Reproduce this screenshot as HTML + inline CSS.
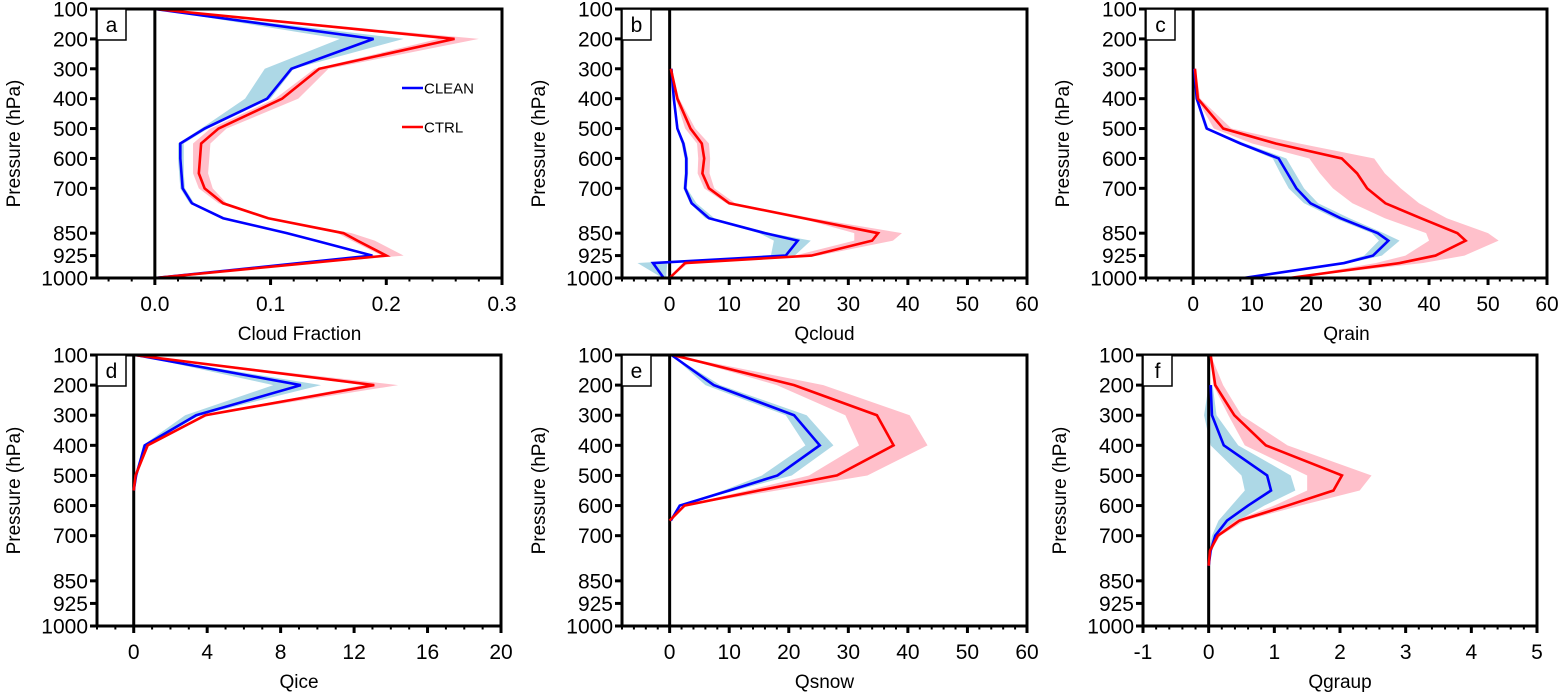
<!DOCTYPE html>
<html><head><meta charset="utf-8">
<style>
html,body{margin:0;padding:0;background:#fff;}
svg{display:block;font-family:"Liberation Sans",Arial,sans-serif;}
</style></head>
<body>
<svg id="chart" width="1568" height="696" viewBox="0 0 1568 696" xmlns="http://www.w3.org/2000/svg"></svg>
<script>
const levels = [100,200,300,400,500,550,600,650,700,750,800,850,875,925,950,1000];
const yTicks = [100,200,300,400,500,600,700,850,925,1000];
const N = null;

// panel a: cloud fraction
const aClean   = [0,0.189,0.118,0.097,0.043,0.022,0.022,0.023,0.024,0.032,0.059,0.114,0.139,0.188,0.125,0];
const aCleanLo = [0,0.160,0.095,0.078,0.040,0.020,0.020,0.021,0.022,0.030,0.057,0.112,0.137,0.184,0.120,0];
const aCleanHi = [0,0.215,0.120,0.100,0.046,0.025,0.025,0.025,0.026,0.034,0.060,0.116,0.142,0.190,0.126,0];
const aCtrl    = [0,0.259,0.142,0.110,0.055,0.040,0.039,0.038,0.043,0.059,0.098,0.163,0.175,0.200,0.133,0];
const aCtrlLo  = [0,0.245,0.138,0.104,0.048,0.033,0.033,0.033,0.038,0.055,0.094,0.158,0.170,0.196,0.130,0];
const aCtrlHi  = [0,0.280,0.150,0.124,0.062,0.048,0.047,0.046,0.050,0.062,0.100,0.170,0.190,0.215,0.140,0];
// panel b: Qcloud
const bClean   = [N,N,0.3,0.7,1.3,2.3,2.8,2.8,2.6,3.7,6.6,16,21.5,19.5,-2.8,-1];
const bCleanLo = [N,N,0.2,0.5,1.1,2.0,2.5,2.5,2.3,3.4,6.0,15,17.5,17.0,-5.4,-1.2];
const bCleanHi = [N,N,0.4,0.9,1.5,2.6,3.1,3.1,2.9,4.5,7.5,17,23.7,21.0,-0.4,-0.6];
const bCtrl    = [N,N,0.2,1.3,3.5,5.4,5.8,5.5,6.6,10,22.5,35,34,23.8,2.6,0];
const bCtrlLo  = [N,N,0.1,1.0,2.6,4.6,4.8,4.7,5.8,9.5,22,31,31,21,2.2,0];
const bCtrlHi  = [N,N,0.3,1.6,4.3,6.6,6.8,6.7,7.5,11,24,39,37.5,25,3.2,0];
// panel c: Qrain
const cClean   = [N,N,0.2,0.6,2.3,8.0,14.5,16,17.5,19.9,25,31.3,33.1,30.5,25.6,8.5];
const cCleanLo = [N,N,0.1,0.4,2.0,7.5,13.5,14.8,16.2,18.8,24,30.3,31.5,29.0,24.8,8.5];
const cCleanHi = [N,N,0.3,0.8,2.6,8.8,15.8,17.3,18.8,21.2,26.5,32.3,35.0,32.0,26.5,8.5];
const cCtrl    = [N,N,0.3,0.8,5.1,14,25.2,27.8,29.5,32.6,38.6,44.8,46.2,41.1,35,16.3];
const cCtrlLo  = [N,N,0.2,0.6,3.5,10,19.7,21.5,23.7,27,32.5,39.5,40,36,31,16.3];
const cCtrlHi  = [N,N,0.4,1.2,6.5,18,30.7,32.5,35.2,38.3,43,50,51.8,46,39,16.3];
// panel d: Qice
const dClean   = [0.1,9.1,3.4,0.6,0.13,0,N,N,N,N,N,N,N,N,N,N];
const dCleanLo = [0.1,7.6,2.8,0.5,0.1,0,N,N,N,N,N,N,N,N,N,N];
const dCleanHi = [0.1,10.2,3.6,0.7,0.2,0,N,N,N,N,N,N,N,N,N,N];
const dCtrl    = [0,13.1,3.9,0.76,0.1,0,N,N,N,N,N,N,N,N,N,N];
const dCtrlLo  = [0,12.5,3.7,0.7,0.1,0,N,N,N,N,N,N,N,N,N,N];
const dCtrlHi  = [0,14.4,4.1,0.8,0.1,0,N,N,N,N,N,N,N,N,N,N];
// panel e: Qsnow
const eClean   = [0.3,7.4,20.9,25.2,18.1,10,1.7,0.2,N,N,N,N,N,N,N,N];
const eCleanLo = [0.3,6.0,19.5,22.8,15.5,9,1.5,0.2,N,N,N,N,N,N,N,N];
const eCleanHi = [0.3,8.5,23.0,27.5,20.5,11,1.9,0.2,N,N,N,N,N,N,N,N];
const eCtrl    = [0.5,20.9,34.8,37.6,28.1,15,2.5,0,N,N,N,N,N,N,N,N];
const eCtrlLo  = [0.5,18.0,29.5,31.8,23.4,13,2.2,0,N,N,N,N,N,N,N,N];
const eCtrlHi  = [0.5,25.8,40.3,43.3,33.2,18,2.8,0,N,N,N,N,N,N,N,N];
// panel f: Qgraup
const fClean   = [N,0.03,0.05,0.23,0.89,0.95,0.6,0.28,0.1,0.03,0,N,N,N,N,N];
const fCleanLo = [N,0.0,-0.07,0.03,0.5,0.55,0.35,0.15,0.05,0.01,0,N,N,N,N,N];
const fCleanHi = [N,0.06,0.12,0.45,1.25,1.32,0.85,0.45,0.15,0.05,0,N,N,N,N,N];
const fCtrl    = [0.03,0.1,0.39,0.87,2.03,1.9,1.2,0.47,0.14,0.02,0,N,N,N,N,N];
const fCtrlLo  = [0.03,0.07,0.3,0.55,1.5,1.5,1.0,0.4,0.1,0.01,0,N,N,N,N,N];
const fCtrlHi  = [0.03,0.22,0.5,1.2,2.48,2.3,1.4,0.55,0.18,0.03,0,N,N,N,N,N];

const xTicksA = [0,0.1,0.2,0.3], xLabA = ["0.0","0.1","0.2","0.3"];
const xTicksQ = [0,10,20,30,40,50,60];
const xTicksD = [0,4,8,12,16,20];
const xTicksF = [-1,0,1,2,3,4,5];

const panels = [
 {id:'a',L:97,R:502,T:9,B:278,xmin:-0.05,xmax:0.3,ticks:xTicksA,labels:xLabA,minor:0.02,minorStart:-0.04,title:'Cloud Fraction',
  s:[aClean,aCleanLo,aCleanHi,aCtrl,aCtrlLo,aCtrlHi],legend:true},
 {id:'b',L:622,R:1027,T:9,B:278,xmin:-8,xmax:60,ticks:xTicksQ,minor:2,minorStart:-8,title:'Qcloud',s:[bClean,bCleanLo,bCleanHi,bCtrl,bCtrlLo,bCtrlHi]},
 {id:'c',L:1146,R:1547,T:9,B:278,xmin:-8,xmax:60,ticks:xTicksQ,minor:2,minorStart:-8,title:'Qrain',s:[cClean,cCleanLo,cCleanHi,cCtrl,cCtrlLo,cCtrlHi]},
 {id:'d',L:97,R:501,T:355,B:626,xmin:-2,xmax:20,ticks:xTicksD,minor:1,minorStart:-2,title:'Qice',s:[dClean,dCleanLo,dCleanHi,dCtrl,dCtrlLo,dCtrlHi]},
 {id:'e',L:622,R:1027,T:355,B:626,xmin:-8,xmax:60,ticks:xTicksQ,minor:2,minorStart:-8,title:'Qsnow',s:[eClean,eCleanLo,eCleanHi,eCtrl,eCtrlLo,eCtrlHi]},
 {id:'f',L:1143,R:1537,T:355,B:626,xmin:-1,xmax:5,ticks:xTicksF,minor:0.2,minorStart:-1,title:'Qgraup',s:[fClean,fCleanLo,fCleanHi,fCtrl,fCtrlLo,fCtrlHi]}
];

const svg = document.getElementById('chart');
const NS = 'http://www.w3.org/2000/svg';
function mk(tag, attrs, parent){
  const e = document.createElementNS(NS, tag);
  for (const k in attrs) e.setAttribute(k, attrs[k]);
  (parent||svg).appendChild(e);
  return e;
}

panels.forEach(p=>{
  const g = mk('g',{});
  
  
  const X = v => p.L + (v - p.xmin)/(p.xmax - p.xmin)*(p.R - p.L);
  const Y = v => p.T + (v - 100)/900*(p.B - p.T);

  function band(lo, hi, color, name){
    const idx = levels.map((_,i)=>i).filter(i=>lo[i]!==null && hi[i]!==null);
    if(!idx.length) return;
    let pts = idx.map(i=>X(hi[i])+','+Y(levels[i]));
    pts = pts.concat(idx.slice().reverse().map(i=>X(lo[i])+','+Y(levels[i])));
    const e = mk('polygon',{points:pts.join(' '),fill:color,stroke:'none'},g);
    
    
  }
  function line(v, color, name){
    const pts = levels.map((l,i)=>v[i]===null?null:X(v[i])+','+Y(l)).filter(s=>s);
    const e = mk('polyline',{points:pts.join(' '),fill:'none',stroke:color,'stroke-width':2.6,'stroke-linejoin':'miter'},g);
    
    
  }
  band(p.s[1],p.s[2],'#add8e6','clean-spread-band');
  band(p.s[4],p.s[5],'#ffc0cb','ctrl-spread-band');
  const z = mk('line',{x1:X(0),x2:X(0),y1:p.T,y2:p.B,stroke:'#000','stroke-width':3},g);
  
  
  line(p.s[0],'#0000ff','clean-line');
  line(p.s[3],'#ff0000','ctrl-line');

  const fr = mk('rect',{x:p.L,y:p.T,width:p.R-p.L,height:p.B-p.T,fill:'none',stroke:'#000','stroke-width':3},g);
  
  

  yTicks.forEach(t=>{
    mk('line',{x1:p.L-7,x2:p.L,y1:Y(t),y2:Y(t),stroke:'#000','stroke-width':3},g);
    const tx = mk('text',{x:p.L-9,y:Y(t)+7.5,'text-anchor':'end','font-size':21},g);
    tx.textContent = t;
    
    
  });
  const nMin = Math.floor((p.xmax-p.minorStart)/p.minor + 1e-6);
  for(let k=0;k<=nMin;k++){
    const v = p.minorStart + k*p.minor;
    mk('line',{x1:X(v),x2:X(v),y1:p.B,y2:p.B+3.5,stroke:'#000','stroke-width':2},g);
  }
  p.ticks.forEach((t,i)=>{
    mk('line',{x1:X(t),x2:X(t),y1:p.B,y2:p.B+7,stroke:'#000','stroke-width':3},g);
    const tx = mk('text',{x:X(t),y:p.B+33,'text-anchor':'middle','font-size':21},g);
    tx.textContent = p.labels ? p.labels[i] : t;
    
    
  });
  const xt = mk('text',{x:(p.L+p.R)/2,y:p.B+62,'text-anchor':'middle','font-size':19},g);
  xt.textContent = p.title;
  
  
  const cy = (p.T+p.B)/2, cx = p.L-84;
  const yt = mk('text',{x:cx,y:cy,'text-anchor':'middle','font-size':19,transform:`rotate(-90 ${cx} ${cy}) translate(0 7)`},g);
  yt.textContent = 'Pressure (hPa)';
  
  
  const lb = mk('rect',{x:p.L,y:p.T,width:29,height:31,fill:'#fff',stroke:'#000','stroke-width':1.5},g);
  
  
  const lt = mk('text',{x:p.L+14.5,y:p.T+23,'text-anchor':'middle','font-size':21},g);
  lt.textContent = p.id;
  
  

  if(p.legend){
    [['CLEAN','#0000ff',88],['CTRL','#ff0000',127]].forEach(([n,c,y])=>{
      const lg = mk('g',{},g);
      
      
      mk('line',{x1:402,x2:423,y1:y,y2:y,stroke:c,'stroke-width':2.6},lg);
      const t = mk('text',{x:424,y:y+5.5,'font-size':15},lg);
      t.textContent = n;
    });
  }
});
</script>
</body></html>
